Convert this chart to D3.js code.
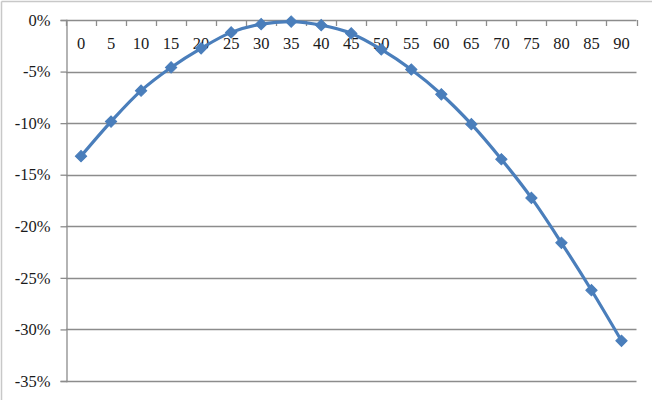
<!DOCTYPE html>
<html>
<head>
<meta charset="utf-8">
<script src="https://cdn.jsdelivr.net/npm/d3@7/dist/d3.min.js"></script>
<style>
body{margin:0;background:#fff;}
svg{display:block;}
text{font-family:"Liberation Serif","Times New Roman",serif;font-size:16.5px;fill:#1a1a1a;}
</style>
</head>
<body>
<svg id="chart" width="655" height="400"></svg>
<script>
const categories = [0,5,10,15,20,25,30,35,40,45,50,55,60,65,70,75,80,85,90];
const values = [-13.2,-9.85,-6.85,-4.6,-2.75,-1.2,-0.4,-0.15,-0.5,-1.3,-2.85,-4.8,-7.2,-10.1,-13.5,-17.25,-21.6,-26.2,-31.1];
const yTicks = [0,-5,-10,-15,-20,-25,-30,-35];

(function(){
const svg = d3.select("#chart");
const mLeft = 66, mRight = 636.5, mTop = 20, mBottom = 381;

// outer chart border (top and left visible)
svg.append("line").attr("x1",1.5).attr("x2",652).attr("y1",1.5).attr("y2",1.5).attr("stroke","#c8c8c8").attr("stroke-width",1.5);
svg.append("line").attr("x1",1.5).attr("x2",1.5).attr("y1",1.5).attr("y2",400).attr("stroke","#c8c8c8").attr("stroke-width",1.5);

const x = d3.scaleBand().domain(categories).range([mLeft,mRight]).paddingInner(0).paddingOuter(0);
const y = d3.scaleLinear().domain([-35,0]).range([mBottom,mTop]);

// gridlines
svg.append("g").selectAll("line").data(yTicks).join("line")
  .attr("x1",mLeft).attr("x2",mRight)
  .attr("y1",d=>Math.round(y(d))+0.5).attr("y2",d=>Math.round(y(d))+0.5)
  .attr("stroke","#8c8c8c").attr("stroke-width",1.3);

// y axis
const yAxis = svg.append("g").attr("transform",`translate(${mLeft+0.5},0)`)
  .call(d3.axisLeft(y).tickValues(yTicks).tickSize(6).tickPadding(10).tickFormat(d=>d+"%"));
yAxis.select(".domain").attr("stroke","#8c8c8c").attr("stroke-width",1.3);
yAxis.selectAll(".tick line").attr("stroke","#8c8c8c").attr("stroke-width",1.3);
yAxis.selectAll("text").style("font-family",'"Liberation Serif",serif').style("font-size","16.5px").attr("fill","#1a1a1a");

// x axis at 0% line, ticks between categories pointing down
const xg = svg.append("g");
const boundaries = categories.map(c=>x(c)).concat([mRight]);
xg.selectAll("line").data(boundaries).join("line")
  .attr("x1",d=>Math.round(d)+0.5).attr("x2",d=>Math.round(d)+0.5)
  .attr("y1",y(0)).attr("y2",y(0)+6)
  .attr("stroke","#8c8c8c").attr("stroke-width",1.3);
xg.selectAll("text").data(categories).join("text")
  .attr("x",d=>x(d)+x.bandwidth()/2).attr("y",49)
  .attr("text-anchor","middle").text(d=>d);

// line
const cx = d=>x(d)+x.bandwidth()/2;
const line = d3.line().x((d,i)=>cx(categories[i])).y(d=>y(d)).curve(d3.curveCatmullRom.alpha(0.5));
svg.append("path").datum(values).attr("d",line)
  .attr("fill","none").attr("stroke","#4a7ebb").attr("stroke-width",3.2).attr("stroke-linejoin","round");

// markers (square diamonds)
svg.append("g").selectAll("path").data(values).join("path")
  .attr("transform",(d,i)=>`translate(${cx(categories[i])},${y(d)}) rotate(45)`)
  .attr("d",d3.symbol().type(d3.symbolSquare).size(64))
  .attr("fill","#4a7ebb").attr("stroke","#4a7ebb").attr("stroke-width",1);
})();
</script>
</body>
</html>
